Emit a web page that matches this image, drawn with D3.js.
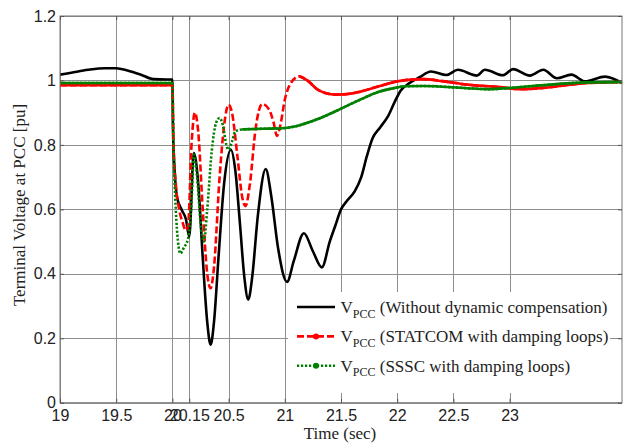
<!DOCTYPE html>
<html>
<head>
<meta charset="utf-8">
<script src="https://cdn.jsdelivr.net/npm/d3@7"></script>
<style>
  body { margin: 0; background: #fff; }
  svg { display: block; font-family: "Liberation Serif", "Times New Roman", serif; }
  .grid line { stroke: #8e8e8e; stroke-width: 1; shape-rendering: crispEdges; }
  .grid path { display: none; }
  .ticks line { stroke: #555; stroke-width: 1; }
  .ticks path { display: none; }
  .labels text { fill: #222; font-size: 16px; }
  .labels path, .labels line { display: none; }
  .title { fill: #222; font-size: 17px; }
  .legend text { fill: #222; font-size: 17px; }
</style>
</head>
<body>
<svg></svg>
<script>
const xTicks = [19, 19.5, 20, 20.15, 20.5, 21, 21.5, 22, 22.5, 23];
const yTicks = [0, 0.2, 0.4, 0.6, 0.8, 1, 1.2];

// V_PCC without dynamic compensation
const noCompTime = [19, 19.1, 19.25, 19.4, 19.5, 19.6, 19.72, 19.83, 19.95, 20.0,
  20.005, 20.02, 20.04, 20.08, 20.12, 20.15, 20.19, 20.23, 20.27, 20.31, 20.34,
  20.37, 20.41, 20.46, 20.52, 20.56, 20.6, 20.64, 20.675, 20.71, 20.76, 20.83,
  20.88, 20.94, 21.02, 21.08, 21.17, 21.25, 21.33, 21.4, 21.45, 21.5, 21.55,
  21.62, 21.68, 21.73, 21.78, 21.85, 21.92, 21.98, 22.03, 22.11, 22.2, 22.3,
  22.44, 22.54, 22.71, 22.78, 22.94, 23.03, 23.18, 23.3, 23.42, 23.55, 23.67,
  23.85, 24.0];
const noCompVolt = [1.018, 1.024, 1.033, 1.038, 1.038, 1.031, 1.018, 1.004, 1.003, 1.003,
  0.85, 0.72, 0.64, 0.6, 0.57, 0.515, 0.775, 0.68, 0.45, 0.25, 0.18,
  0.25, 0.45, 0.68, 0.785, 0.72, 0.56, 0.39, 0.32, 0.39, 0.58, 0.725,
  0.64, 0.48, 0.375, 0.44, 0.526, 0.47, 0.42, 0.5, 0.55, 0.6, 0.625,
  0.655, 0.7, 0.765, 0.82, 0.855, 0.89, 0.935, 0.968, 0.992, 1.01, 1.028,
  1.017, 1.033, 1.015, 1.033, 1.016, 1.035, 1.015, 1.033, 1.007, 1.018, 0.997,
  1.012, 0.992];

// V_PCC with STATCOM and damping loops
const statcomTime = [19, 19.5, 20.0, 20.01, 20.03, 20.06, 20.09, 20.12, 20.14, 20.17,
  20.2, 20.23, 20.27, 20.31, 20.34, 20.37, 20.42, 20.46, 20.5, 20.53, 20.58,
  20.62, 20.65, 20.69, 20.74, 20.8, 20.86, 20.9, 20.93, 20.96, 21.0, 21.05,
  21.13, 21.2, 21.3, 21.45, 21.6, 21.83, 22.01, 22.23, 22.4, 22.62, 22.89,
  23.1, 23.3, 23.45, 23.69, 24.0];
const statcomVolt = [0.985, 0.985, 0.985, 0.8, 0.68, 0.6, 0.56, 0.535, 0.55, 0.8,
  0.9, 0.84, 0.6, 0.4, 0.355, 0.42, 0.7, 0.86, 0.925, 0.9, 0.76,
  0.64, 0.61, 0.68, 0.85, 0.927, 0.91, 0.87, 0.828, 0.86, 0.94, 0.99,
  1.013, 1.0, 0.97, 0.956, 0.96, 0.981, 0.998, 1.004, 0.998, 0.987, 0.98,
  0.973, 0.977, 0.983, 0.992, 0.995];

// V_PCC with SSSC and damping loops
const ssscTime = [19, 19.5, 20.0, 20.01, 20.03, 20.05, 20.07, 20.1, 20.14, 20.17,
  20.19, 20.22, 20.25, 20.28, 20.31, 20.35, 20.39, 20.42, 20.45, 20.48, 20.5,
  20.53, 20.56, 20.62, 20.8, 20.95, 21.1, 21.27, 21.51, 21.68, 21.83, 21.98,
  22.07, 22.23, 22.62, 22.8, 23.21, 23.69, 24.0];
const ssscVolt = [0.992, 0.992, 0.992, 0.8, 0.6, 0.5, 0.463, 0.48, 0.51, 0.62,
  0.77, 0.7, 0.56, 0.5, 0.6, 0.78, 0.87, 0.883, 0.86, 0.8, 0.785,
  0.81, 0.842, 0.848, 0.85, 0.851, 0.858, 0.877, 0.914, 0.942, 0.964, 0.977,
  0.982, 0.983, 0.976, 0.973, 0.983, 0.994, 0.995];

const width = 625;
const height = 444;
const plotLeft = 60, plotRight = 622, plotTop = 16, plotBottom = 402.7;

const svg = d3.select('svg')
    .attr('width', width)
    .attr('height', height);

const x = d3.scaleLinear().domain([19, 24]).range([plotLeft, plotRight]);
const y = d3.scaleLinear().domain([0, 1.2]).range([plotBottom, plotTop]);
const fmt = (d) => String(d);

// grid
svg.append('g')
    .attr('class', 'grid')
    .attr('transform', `translate(0,${plotBottom})`)
    .call(d3.axisBottom(x).tickValues(xTicks).tickSize(-(plotBottom - plotTop)).tickFormat(''));
svg.append('g')
    .attr('class', 'grid')
    .attr('transform', `translate(${plotLeft},0)`)
    .call(d3.axisLeft(y).tickValues(yTicks).tickSize(-(plotRight - plotLeft)).tickFormat(''));

// lines
svg.append('clipPath').attr('id', 'plot')
    .append('rect')
    .attr('x', plotLeft).attr('y', plotTop - 2)
    .attr('width', plotRight - plotLeft + 2).attr('height', plotBottom - plotTop + 4);

const line = d3.line()
    .x((d) => x(d[0]))
    .y((d) => y(d[1]))
    .curve(d3.curveMonotoneX);

function drawSeries(times, volts, color, dash, solidSpans) {
  const pts = times.map((t, i) => [t, volts[i]]);
  const g = svg.append('g').attr('clip-path', 'url(#plot)');
  g.append('path')
      .datum(pts)
      .attr('d', line)
      .attr('fill', 'none')
      .attr('stroke', color)
      .attr('stroke-width', 2.6)
      .attr('stroke-dasharray', dash);
  // dense sample stretches read as a solid stroke in the source figure
  for (const span of solidSpans) {
    g.append('path')
        .datum(pts.filter((p) => p[0] >= span[0] && p[0] <= span[1]))
        .attr('d', line)
        .attr('fill', 'none')
        .attr('stroke', color)
        .attr('stroke-width', 2.6);
  }
}

drawSeries(noCompTime, noCompVolt, '#000', null, []);
drawSeries(statcomTime, statcomVolt, '#ff0000', '7,3', [[19, 20], [21.13, 24]]);
drawSeries(ssscTime, ssscVolt, '#008000', '2.2,1.8', [[19, 20], [20.62, 24]]);

// legend
const legendRows = [
  {label: ' (Without dynamic compensation)', color: '#000', dash: null, marker: false},
  {label: ' (STATCOM with damping loops)', color: '#ff0000', dash: '7,3', marker: true},
  {label: ' (SSSC with damping loops)', color: '#008000', dash: '2.2,1.8', marker: true},
];
const legend = svg.append('g').attr('class', 'legend');
legend.append('rect')
    .attr('x', 288).attr('y', 292)
    .attr('width', 322).attr('height', 101)
    .attr('fill', '#fff');
legendRows.forEach((row, i) => {
  const cy = 307 + i * 29.4;
  legend.append('line')
      .attr('x1', 297).attr('x2', 335)
      .attr('y1', cy).attr('y2', cy)
      .attr('stroke', row.color)
      .attr('stroke-width', 2.6)
      .attr('stroke-dasharray', row.dash);
  if (row.marker) {
    legend.append('circle')
        .attr('cx', 316).attr('cy', cy).attr('r', 3)
        .attr('fill', row.color);
  }
  const text = legend.append('text')
      .attr('x', 340.5).attr('y', cy + 6);
  text.append('tspan').text('V');
  text.append('tspan')
      .attr('dy', 4.5)
      .attr('font-size', 12)
      .text('PCC');
  text.append('tspan')
      .attr('dy', -4.5)
      .text(row.label);
});

// box and inner ticks
svg.append('rect')
    .attr('x', plotLeft).attr('y', plotTop)
    .attr('width', plotRight - plotLeft).attr('height', plotBottom - plotTop)
    .attr('fill', 'none')
    .attr('stroke', '#777')
    .attr('stroke-width', 1);

svg.append('g').attr('class', 'ticks')
    .attr('transform', `translate(0,${plotBottom})`)
    .call(d3.axisBottom(x).tickValues(xTicks).tickSize(-4).tickFormat(''));
svg.append('g').attr('class', 'ticks')
    .attr('transform', `translate(0,${plotTop})`)
    .call(d3.axisTop(x).tickValues(xTicks).tickSize(-4).tickFormat(''));
svg.append('g').attr('class', 'ticks')
    .attr('transform', `translate(${plotLeft},0)`)
    .call(d3.axisLeft(y).tickValues(yTicks).tickSize(-4).tickFormat(''));
svg.append('g').attr('class', 'ticks')
    .attr('transform', `translate(${plotRight},0)`)
    .call(d3.axisRight(y).tickValues(yTicks).tickSize(-4).tickFormat(''));

// tick labels
svg.append('g').attr('class', 'labels')
    .attr('transform', `translate(0,${plotBottom})`)
    .call(d3.axisBottom(x).tickValues(xTicks).tickSize(0).tickPadding(6).tickFormat(fmt))
    .selectAll('text').attr('dy', '0.75em');
svg.append('g').attr('class', 'labels')
    .attr('transform', `translate(${plotLeft},0)`)
    .call(d3.axisLeft(y).tickValues(yTicks).tickSize(0).tickPadding(4).tickFormat(fmt));

// axis titles
svg.append('text')
    .attr('class', 'title')
    .attr('x', 340).attr('y', 439)
    .attr('text-anchor', 'middle')
    .text('Time (sec)');
svg.append('text')
    .attr('class', 'title')
    .attr('transform', 'translate(25,205) rotate(-90)')
    .attr('text-anchor', 'middle')
    .text('Terminal Voltage at PCC [pu]');
</script>
</body>
</html>
